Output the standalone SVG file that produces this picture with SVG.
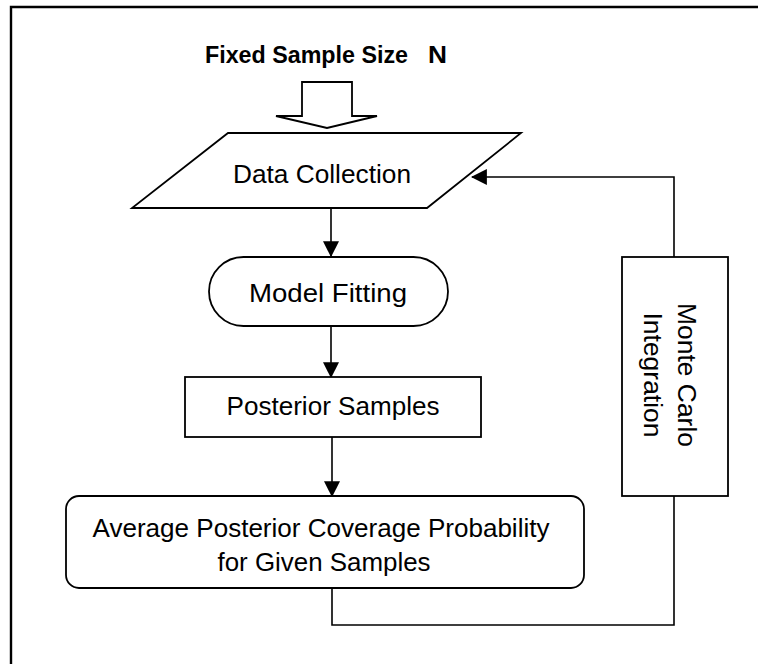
<svg xmlns="http://www.w3.org/2000/svg" width="758" height="664" viewBox="0 0 758 664">
  <style>
    .shape { fill: #ffffff; stroke: #000000; stroke-width: 1.8; }
    .conn { fill: none; stroke: #000000; stroke-width: 1.6; }
    .lbl { font-family: "Liberation Sans", Arial, sans-serif; font-size: 25px; fill: #000000; text-anchor: middle; }
    .title { font-family: "Liberation Sans", Arial, sans-serif; font-size: 23px; font-weight: bold; fill: #000000; }
  </style>
  <defs>
    <marker id="ah" markerUnits="userSpaceOnUse" markerWidth="16" markerHeight="16" viewBox="0 0 14 14" refX="13" refY="7" orient="auto">
      <path d="M0,0 L14,7 L0,14 Z" fill="#000000"/>
    </marker>
  </defs>
  <rect width="758" height="664" fill="#ffffff"/>
  <g id="frame">
    <path d="M11,664 L11,7 L758,7" fill="none" stroke="#000000" stroke-width="2.4"/>
  </g>
  <g id="title">
    <text class="title" x="205" y="63" textLength="203" lengthAdjust="spacingAndGlyphs">Fixed Sample Size</text>
    <text class="title" x="428" y="63" textLength="19" lengthAdjust="spacingAndGlyphs">N</text>
  </g>
  <g id="input-arrow">
    <path class="shape" d="M302,82 L352,82 L352,116 L377,116 L327,128 L276,116 L302,116 Z" stroke-width="1.6"/>
  </g>
  <g id="connectors">
    <line class="conn" x1="331" y1="208" x2="331" y2="256" marker-end="url(#ah)"/>
    <line class="conn" x1="331" y1="326" x2="331" y2="377" marker-end="url(#ah)"/>
    <line class="conn" x1="332" y1="437" x2="332" y2="496" marker-end="url(#ah)"/>
    <polyline class="conn" points="332,588 332,625 674,625 674,496"/>
    <polyline class="conn" points="674,257 674,177 472,177" marker-end="url(#ah)"/>
  </g>
  <g id="data-collection">
    <polygon class="shape" points="228,133 521,133 427,208 132,208"/>
    <text class="lbl" x="322" y="183" textLength="178" lengthAdjust="spacingAndGlyphs">Data Collection</text>
  </g>
  <g id="model-fitting">
    <rect class="shape" x="209" y="257" width="239" height="69" rx="34.5" ry="34.5"/>
    <text class="lbl" x="328" y="302" textLength="158" lengthAdjust="spacingAndGlyphs">Model Fitting</text>
  </g>
  <g id="posterior-samples">
    <rect class="shape" x="185" y="377" width="296" height="60"/>
    <text class="lbl" x="333" y="415" textLength="213" lengthAdjust="spacingAndGlyphs">Posterior Samples</text>
  </g>
  <g id="average-coverage">
    <rect class="shape" x="66" y="496" width="518" height="92" rx="13" ry="13"/>
    <text class="lbl" x="321" y="537" textLength="457" lengthAdjust="spacingAndGlyphs">Average Posterior Coverage Probability</text>
    <text class="lbl" x="324" y="571" textLength="213" lengthAdjust="spacingAndGlyphs">for Given Samples</text>
  </g>
  <g id="monte-carlo">
    <rect class="shape" x="622" y="257" width="106" height="239"/>
    <g transform="translate(675,375) rotate(90)">
      <text class="lbl" x="0" y="-3" textLength="144" lengthAdjust="spacingAndGlyphs">Monte Carlo</text>
      <text class="lbl" x="0" y="31" textLength="125" lengthAdjust="spacingAndGlyphs">Integration</text>
    </g>
  </g>
</svg>
